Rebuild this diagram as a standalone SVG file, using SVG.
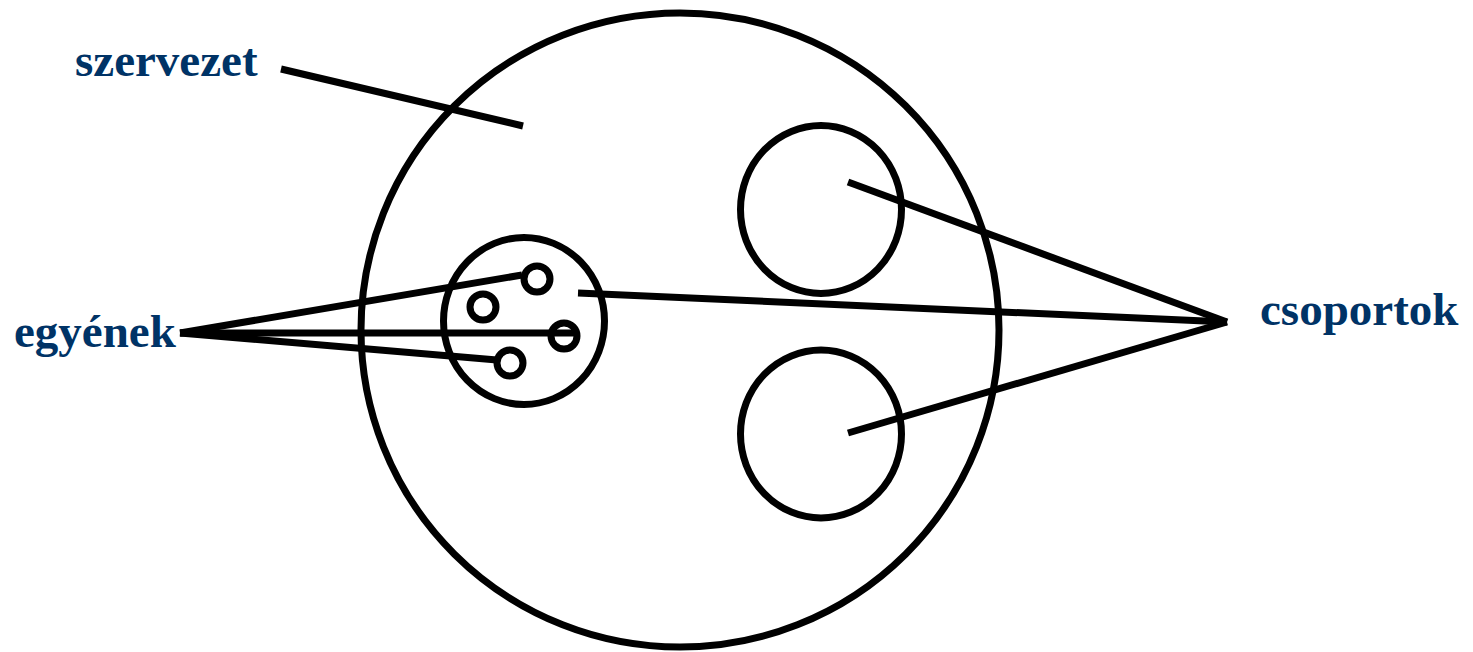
<svg xmlns="http://www.w3.org/2000/svg" width="1473" height="652" viewBox="0 0 1473 652">
<style>
.s{fill:none;stroke:#000;stroke-width:7}
.l{stroke:#000;stroke-width:7;fill:none}
.t{font-family:"Liberation Serif","Times New Roman",serif;font-weight:bold;font-size:47px;fill:#003366}
</style>
<rect width="1473" height="652" fill="#fff"/>
<g id="szervezet"><ellipse class="s" cx="680" cy="330" rx="319" ry="317"/></g>
<g id="csoport-kicsi"><ellipse class="s" cx="524" cy="321" rx="80.5" ry="83.5"/></g>
<g id="csoport-felso"><ellipse class="s" cx="821" cy="209.5" rx="80.5" ry="84"/></g>
<g id="csoport-also"><ellipse class="s" cx="821" cy="434" rx="80.5" ry="84"/></g>
<g id="egyen1"><circle class="s" cx="537" cy="279" r="13"/></g>
<g id="egyen2"><circle class="s" cx="483" cy="307" r="13"/></g>
<g id="egyen3"><circle class="s" cx="564" cy="336" r="13"/></g>
<g id="egyen4"><circle class="s" cx="510" cy="363" r="13"/></g>
<g id="connectors">
<line class="l" x1="281" y1="69" x2="523" y2="126"/>
<line class="l" x1="180" y1="333" x2="522" y2="275"/>
<line class="l" x1="180" y1="333" x2="577" y2="333"/>
<line class="l" x1="180" y1="333" x2="497" y2="360"/>
<line class="l" x1="1227" y1="322" x2="848" y2="182"/>
<line class="l" x1="1227" y1="322" x2="578" y2="293"/>
<line class="l" x1="1227" y1="322" x2="848" y2="433"/>
</g>
<g id="labels">
<text class="t" x="75" y="76">szervezet</text>
<text class="t" x="14" y="347">egyének</text>
<text class="t" x="1260" y="325">csoportok</text>
</g>
</svg>
